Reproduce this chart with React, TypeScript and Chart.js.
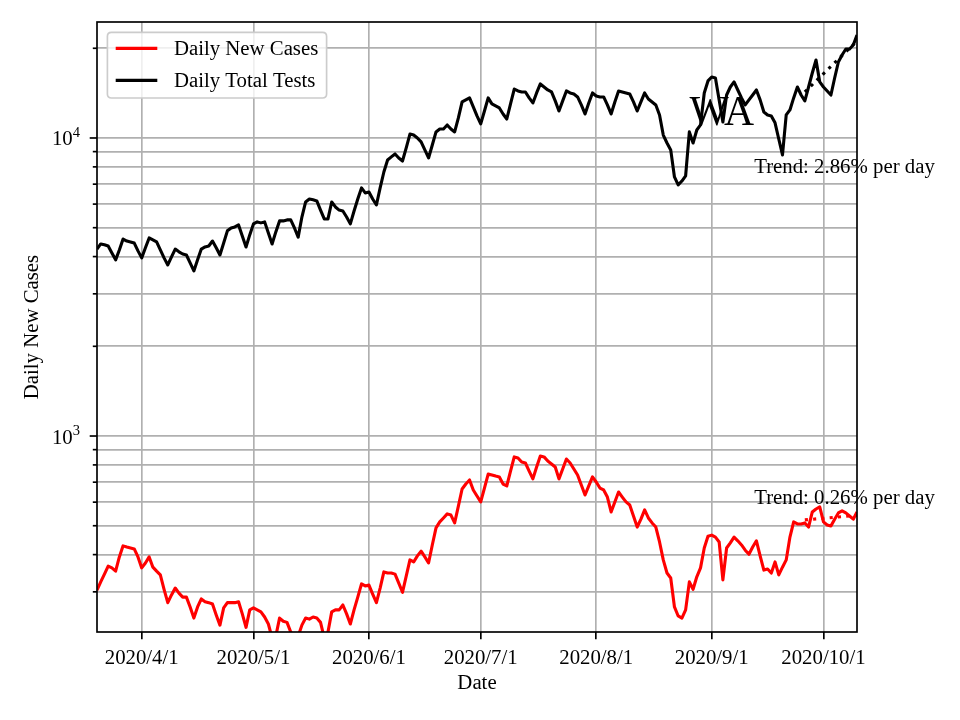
import React, { useEffect, useRef } from 'react';
import { Chart, registerables } from 'chart.js';

Chart.register(...registerables);

// ---- data (index 0 = 2020-03-20, one value per day) ----
const START_DATE = '2020-03-20';
const xTickDays = [12, 42, 73, 103, 134, 165, 195];
const xTickLabels = ['2020/4/1', '2020/5/1', '2020/6/1', '2020/7/1', '2020/8/1', '2020/9/1', '2020/10/1'];
const yGridValues = [300, 400, 500, 600, 700, 800, 900, 1000, 2000, 3000, 4000, 5000, 6000, 7000, 8000, 9000, 10000, 20000];
const yMajorValues = [1000, 10000];
const yMajorExponents = ['3', '4'];

const seriesLabels = ['Daily New Cases', 'Daily Total Tests'];

const dailyNewCases = [
  304, 324, 344, 366, 361, 352, 393, 428, 424, 421,
  418, 393, 361, 375, 393, 363, 352, 342, 306, 276,
  293, 309, 297, 288, 288, 267, 245, 267, 284, 278,
  276, 273, 251, 232, 265, 276, 276, 276, 278, 253,
  228, 261, 265, 261, 257, 247, 234, 210, 213, 245,
  239, 237, 220, 207, 213, 232, 245, 243, 247, 245,
  237, 210, 220, 257, 261, 261, 271, 253, 234, 261,
  288, 319, 314, 316, 295, 276, 309, 350, 347, 347,
  344, 321, 299, 339, 384, 378, 396, 411, 393, 375,
  431, 492, 515, 531, 548, 543, 511, 582, 664, 690,
  712, 659, 629, 601, 669, 745, 740, 734, 729, 690,
  680, 763, 851, 844, 818, 812, 763, 718, 787, 857,
  851, 824, 806, 787, 718, 775, 837, 812, 775, 740,
  685, 634, 680, 729, 701, 669, 659, 624, 556, 601,
  649, 624, 601, 587, 539, 495, 526, 565, 531, 511,
  495, 441, 384, 347, 334, 267, 249, 245, 261, 324,
  306, 337, 361, 421, 461, 465, 458, 441, 329, 421,
  438, 458, 445, 431, 414, 401, 424, 445, 396, 355,
  358, 347, 378, 342, 363, 384, 458, 515, 507, 507,
  511, 495, 556, 569, 578, 515, 503, 499, 526, 552,
  561, 552, 539, 526, 556,
];

const dailyTotalTests = [
  4240, 4410, 4380, 4340, 4110, 3900, 4210, 4580, 4510, 4480,
  4440, 4180, 3960, 4280, 4620, 4550, 4480, 4210, 3960, 3750,
  3990, 4240, 4150, 4080, 4050, 3810, 3580, 3900, 4240, 4310,
  4340, 4510, 4280, 4050, 4440, 4880, 4990, 5030, 5110, 4690,
  4310, 4730, 5150, 5230, 5190, 5230, 4800, 4410, 4840, 5270,
  5270, 5310, 5310, 4990, 4650, 5430, 6100, 6240, 6200, 6150,
  5730, 5350, 5350, 6100, 5870, 5730, 5690, 5430, 5150, 5690,
  6240, 6800, 6540, 6590, 6240, 5960, 6800, 7690, 8440, 8640,
  8840, 8570, 8370, 9260, 10310, 10230, 10000, 9700, 9120, 8570,
  9470, 10480, 10720, 10720, 11060, 10720, 10480, 11680, 13210, 13420,
  13630, 12710, 11860, 11150, 12320, 13630, 13010, 12810, 12610, 12040,
  11580, 13010, 14600, 14380, 14270, 14270, 13630, 13110, 14160, 15180,
  14830, 14490, 14270, 13320, 12320, 13320, 14380, 14160, 14050, 13730,
  12910, 12040, 13110, 14160, 13830, 13730, 13730, 12910, 12040, 13210,
  14380, 14270, 14160, 14050, 13210, 12320, 13210, 14160, 13520, 13210,
  12910, 11950, 10230, 9620, 9120, 7400, 6960, 7170, 7460, 10480,
  9620, 10640, 11060, 14160, 15540, 16020, 15900, 13420, 11320, 13940,
  14830, 15420, 14490, 13630, 12910, 13420, 13940, 14490, 13420, 12230,
  11950, 11860, 11240, 9920, 8770, 11950, 12420, 13630, 14830, 13940,
  13320, 14830, 16520, 18270, 15420, 14830, 14380, 13940, 15900, 17990,
  18990, 19890, 19890, 20520, 22160,
];

const trendDays = [190, 204];
const casesTrend = [523, 542];
const testsTrend = [14270, 21180];
const casesTrendLabel = 'Trend: 0.26% per day';
const testsTrendLabel = 'Trend: 2.86% per day';
const trendTextDay = 176.4;
const casesTrendTextValue = 591;
const testsTrendTextValue = 7630;
const stateName = 'WA';
const xTitle = 'Date';
const yTitle = 'Daily New Cases';

// ---- styling ----
const FONT = '"Liberation Serif", "Times New Roman", Times, serif';
const FS = 20.8;
const LW = 3.1;
const GRID = '#b0b0b0';

const toXY = (arr: number[]) => arr.map((v, i) => ({ x: i, y: v }));

const decorPlugin = {
  id: 'decor',
  afterDraw(chart: any) {
    const { ctx, chartArea: a, scales } = chart;
    const xs = scales.x;
    const ys = scales.y;
    ctx.save();

    // y tick marks
    ctx.strokeStyle = '#000';
    ctx.lineWidth = 1.67;
    for (const v of yGridValues) {
      const py = ys.getPixelForValue(v);
      const len = yMajorValues.includes(v) ? 7.3 : 4.2;
      ctx.beginPath();
      ctx.moveTo(a.left, py);
      ctx.lineTo(a.left - len, py);
      ctx.stroke();
    }

    // spines
    ctx.strokeRect(a.left, a.top, a.right - a.left, a.bottom - a.top);

    // y major labels 10^k
    ctx.fillStyle = '#000';
    ctx.textBaseline = 'alphabetic';
    ctx.textAlign = 'left';
    yMajorValues.forEach((v, i) => {
      const py = ys.getPixelForValue(v);
      ctx.font = `${FS}px ${FONT}`;
      const w10 = ctx.measureText('10').width;
      ctx.font = `${FS * 0.7}px ${FONT}`;
      const we = ctx.measureText(yMajorExponents[i]).width;
      const right = a.left - 17;
      const x0 = right - w10 - we;
      ctx.font = `${FS}px ${FONT}`;
      ctx.fillText('10', x0, py + 7.5);
      ctx.font = `${FS * 0.7}px ${FONT}`;
      ctx.fillText(yMajorExponents[i], x0 + w10, py - 1);
    });

    // axis titles
    ctx.font = `${FS}px ${FONT}`;
    ctx.textAlign = 'center';
    ctx.textBaseline = 'middle';
    ctx.fillText(xTitle, (a.left + a.right) / 2, 684);
    ctx.save();
    ctx.translate(33, (a.top + a.bottom) / 2);
    ctx.rotate(-Math.PI / 2);
    ctx.fillText(yTitle, 0, 0);
    ctx.restore();

    // trend texts
    ctx.textAlign = 'left';
    ctx.textBaseline = 'alphabetic';
    const tx = xs.getPixelForValue(trendTextDay);
    ctx.fillText(testsTrendLabel, tx, ys.getPixelForValue(testsTrendTextValue));
    ctx.fillText(casesTrendLabel, tx, ys.getPixelForValue(casesTrendTextValue));

    // state name
    ctx.font = `${FS * 2}px ${FONT}`;
    ctx.textAlign = 'center';
    ctx.fillText(stateName, a.left + 0.822 * (a.right - a.left), a.top + 0.169 * (a.bottom - a.top));

    // legend
    ctx.font = `${FS}px ${FONT}`;
    const lx = a.left + 10.4;
    const ly = a.top + 10.4;
    const tw = Math.max(...seriesLabels.map((t) => ctx.measureText(t).width));
    const bw = 8.3 + 41.6 + 16.6 + tw + 8.3;
    const bh = 65.6;
    const r = 4;
    ctx.beginPath();
    ctx.moveTo(lx + r, ly);
    ctx.lineTo(lx + bw - r, ly);
    ctx.quadraticCurveTo(lx + bw, ly, lx + bw, ly + r);
    ctx.lineTo(lx + bw, ly + bh - r);
    ctx.quadraticCurveTo(lx + bw, ly + bh, lx + bw - r, ly + bh);
    ctx.lineTo(lx + r, ly + bh);
    ctx.quadraticCurveTo(lx, ly + bh, lx, ly + bh - r);
    ctx.lineTo(lx, ly + r);
    ctx.quadraticCurveTo(lx, ly, lx + r, ly);
    ctx.closePath();
    ctx.fillStyle = 'rgba(255,255,255,0.8)';
    ctx.fill();
    ctx.strokeStyle = '#cccccc';
    ctx.lineWidth = 1.67;
    ctx.stroke();
    const colors = ['#ff0000', '#000000'];
    seriesLabels.forEach((t, i) => {
      const cy = ly + 16 + i * 32;
      ctx.strokeStyle = colors[i];
      ctx.lineWidth = LW;
      ctx.beginPath();
      ctx.moveTo(lx + 8.3, cy);
      ctx.lineTo(lx + 8.3 + 41.6, cy);
      ctx.stroke();
      ctx.fillStyle = '#000';
      ctx.textAlign = 'left';
      ctx.textBaseline = 'middle';
      ctx.fillText(t, lx + 8.3 + 41.6 + 16.6, cy + 1);
    });

    ctx.restore();
  },
};

export default function App() {
  const ref = useRef<HTMLCanvasElement | null>(null);

  useEffect(() => {
    document.body.style.margin = '0';
    if (!ref.current) return;
    const lineBase = {
      pointRadius: 0,
      tension: 0,
      borderJoinStyle: 'round' as const,
      clip: 0,
    };
    const chart = new Chart(ref.current, {
      type: 'line',
      data: {
        datasets: [
          { ...lineBase, label: seriesLabels[0], data: toXY(dailyNewCases), borderColor: '#ff0000', borderWidth: LW },
          { ...lineBase, label: seriesLabels[1], data: toXY(dailyTotalTests), borderColor: '#000000', borderWidth: LW },
          {
            ...lineBase,
            label: 'cases trend',
            data: trendDays.map((d, i) => ({ x: d, y: casesTrend[i] })),
            borderColor: '#ff0000',
            borderWidth: LW,
            borderDash: [3.1, 5.2],
            borderCapStyle: 'butt',
          },
          {
            ...lineBase,
            label: 'tests trend',
            data: trendDays.map((d, i) => ({ x: d, y: testsTrend[i] })),
            borderColor: '#000000',
            borderWidth: LW,
            borderDash: [3.1, 5.2],
            borderCapStyle: 'butt',
          },
        ],
      },
      options: {
        animation: false,
        responsive: false,
        maintainAspectRatio: false,
        layout: { padding: { left: 0, top: 22, right: 103, bottom: 0 } },
        plugins: { legend: { display: false }, tooltip: { enabled: false } },
        scales: {
          x: {
            type: 'linear',
            min: 0,
            max: dailyNewCases.length - 1,
            afterBuildTicks: (scale: any) => {
              scale.ticks = xTickDays.map((v) => ({ value: v }));
            },
            afterFit: (scale: any) => {
              scale.height = 88;
            },
            ticks: {
              autoSkip: false,
              maxRotation: 0,
              padding: 7,
              color: '#000',
              font: { family: FONT, size: FS },
              callback: (v: any) => {
                const i = xTickDays.indexOf(Number(v));
                return i >= 0 ? xTickLabels[i] : '';
              },
            },
            grid: { color: GRID, lineWidth: 1.67, tickColor: '#000', tickLength: 7.3, tickWidth: 1.67 },
            border: { display: false },
          },
          y: {
            type: 'logarithmic',
            min: 220,
            max: 24500,
            afterBuildTicks: (scale: any) => {
              scale.ticks = yGridValues.map((v) => ({ value: v }));
            },
            afterFit: (scale: any) => {
              scale.width = 97;
            },
            ticks: { callback: () => '', font: { family: FONT, size: FS } },
            grid: { color: GRID, lineWidth: 1.67, drawTicks: false },
            border: { display: false },
          },
        },
      } as any,
      plugins: [decorPlugin],
    });
    (document as any).fonts?.load?.(`${FS}px "Liberation Serif"`).then(() => chart.draw()).catch(() => {});
    return () => chart.destroy();
  }, []);

  return (
    <div style={{ width: 960, height: 720 }} data-start={START_DATE}>
      <canvas ref={ref} width={960} height={720} style={{ display: 'block' }} />
    </div>
  );
}
